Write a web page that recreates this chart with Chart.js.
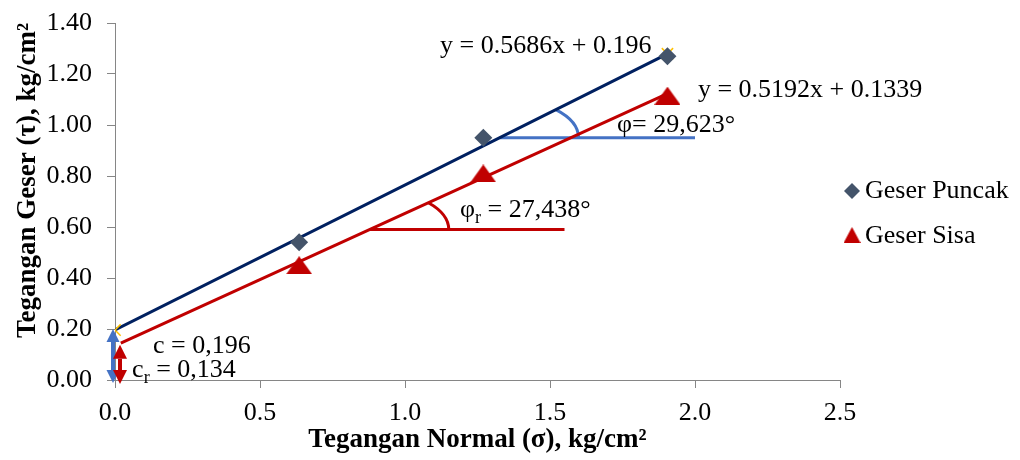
<!DOCTYPE html>
<html>
<head>
<meta charset="utf-8">
<script src="https://cdn.jsdelivr.net/npm/chart.js@4.4.1/dist/chart.umd.min.js"></script>
<style>
html,body{margin:0;background:#fff}
#wrap{width:1020px;height:460px}
</style>
</head>
<body>
<div id="wrap"><canvas id="geser"></canvas></div>
<script>
// hasil uji geser langsung
const normal=[0.635,1.27,1.905];
const geserPuncak=[0.54,0.95,1.27];
const geserSisa=[0.45,0.81,1.115];
const seriesNames=['Geser Puncak','Geser Sisa'];
// garis trend: y = a x + b
const slope=[0.5686,0.5192];
const intercept=[0.196,0.1339];
const trendFrom=[0,0.02];
const trendTo=[1.905,1.905];
const eqText=['y = 0.5686x + 0.196','y = 0.5192x + 0.1339'];
// garis bantu sudut geser
const angleLevel=[0.95,0.59];
const angleEnd=[2.0,1.55];
const angleText=['φ= 29,623°','27,438°'];
const cohesionText=['0,196','0,134'];
const yTitle='Tegangan Geser (τ), kg/cm²';

const NAVY='#002060',RED='#c00000',BLUE='#4472c4',SLATE='#44546a',GOLD='#ffc000',AX='#868686';
const SERIF="'Liberation Serif','Times New Roman',serif";

Chart.defaults.font.family=SERIF;
Chart.defaults.color='#000';

function triangle(w,h,color){
  const c=document.createElement('canvas');c.width=w;c.height=h;
  const g=c.getContext('2d');
  g.fillStyle=color;g.beginPath();g.moveTo(w/2,0);g.lineTo(w,h);g.lineTo(0,h);g.closePath();g.fill();
  return c;
}
const triMark=triangle(26,18,RED);

const pts=(xs,ys)=>xs.map((x,i)=>({x,y:ys[i]}));
const trend=i=>[trendFrom[i],trendTo[i]].map(x=>({x,y:slope[i]*x+intercept[i]}));

/* garis horizontal + busur sudut, di bawah garis trend */
const angleGuides={
  id:'angleGuides',
  beforeDatasetsDraw(c){
    const {ctx,scales:{x,y}}=c;
    const colors=[BLUE,RED];
    ctx.save();
    ctx.lineWidth=3;
    for(let i=0;i<2;i++){
      const x0=(angleLevel[i]-intercept[i])/slope[i];
      const cx=x.getPixelForValue(x0),cy=y.getPixelForValue(angleLevel[i]);
      const ex=x.getPixelForValue(angleEnd[i]);
      ctx.strokeStyle=colors[i];
      ctx.beginPath();ctx.moveTo(cx,cy);ctx.lineTo(ex,cy);ctx.stroke();
      // busur elips dari garis trend ke horizontal
      const pxSlope=slope[i]*(y.getPixelForValue(0)-y.getPixelForValue(1))/(x.getPixelForValue(1)-x.getPixelForValue(0));
      const rx=79,ry=40;
      const t=Math.atan(pxSlope*rx/ry);
      ctx.beginPath();ctx.ellipse(cx,cy,rx,ry,0,-t,0);ctx.stroke();
    }
    ctx.restore();
  }
};

function arrow(ctx,x,top,bottom,color,head){
  ctx.fillStyle=color;ctx.strokeStyle=color;ctx.lineWidth=4;
  ctx.beginPath();ctx.moveTo(x,top+head);ctx.lineTo(x,bottom-head);ctx.stroke();
  ctx.beginPath();ctx.moveTo(x,top);ctx.lineTo(x+head/2,top+head);ctx.lineTo(x-head/2,top+head);ctx.closePath();ctx.fill();
  ctx.beginPath();ctx.moveTo(x,bottom);ctx.lineTo(x+head/2,bottom-head);ctx.lineTo(x-head/2,bottom-head);ctx.closePath();ctx.fill();
}

function sub(ctx,base,s,rest,px,py,size){
  ctx.font=`${size}px ${SERIF}`;ctx.fillText(base,px,py);
  let w=ctx.measureText(base).width;
  ctx.font=`${Math.round(size*0.68)}px ${SERIF}`;ctx.fillText(s,px+w,py+6);
  w+=ctx.measureText(s).width;
  ctx.font=`${size}px ${SERIF}`;ctx.fillText(rest,px+w,py);
}

/* panah kohesi, teks persamaan, legenda, judul sumbu y */
const notes={
  id:'notes',
  afterDatasetsDraw(c){
    const {ctx,scales:{x,y},chartArea:a}=c;
    ctx.save();
    const x0=x.getPixelForValue(0),y0=y.getPixelForValue(0);
    arrow(ctx,x0-2,y.getPixelForValue(intercept[0])-1,y0+3,BLUE,13);
    arrow(ctx,x0+5,y.getPixelForValue(intercept[1])-1,y0+4,RED,14);

    ctx.fillStyle='#000';ctx.textBaseline='alphabetic';ctx.textAlign='left';
    ctx.font=`26px ${SERIF}`;
    ctx.fillText(eqText[0],x.getPixelForValue(1.121),y.getPixelForValue(1.282));
    ctx.fillText(eqText[1],x.getPixelForValue(2.01),y.getPixelForValue(1.11));
    ctx.fillText(angleText[0],x.getPixelForValue(1.731),y.getPixelForValue(0.973));
    sub(ctx,'φ','r',' = '+angleText[1],x.getPixelForValue(1.19),y.getPixelForValue(0.639),26);
    ctx.font=`26px ${SERIF}`;
    ctx.fillText('c = '+cohesionText[0],x.getPixelForValue(0.131),y.getPixelForValue(0.106));
    sub(ctx,'c','r',' = '+cohesionText[1],x.getPixelForValue(0.059),y.getPixelForValue(0.012),26);

    // legenda
    const lx=a.right+12;
    ctx.fillStyle=SLATE;
    ctx.beginPath();ctx.moveTo(lx-8,a.top+168);ctx.lineTo(lx,a.top+160);ctx.lineTo(lx+8,a.top+168);ctx.lineTo(lx,a.top+176);ctx.closePath();ctx.fill();
    ctx.drawImage(triangle(17,16,RED),lx-8.5,a.top+204);
    ctx.fillStyle='#000';ctx.font=`26px ${SERIF}`;
    ctx.fillText(seriesNames[0],lx+13,a.top+175);
    ctx.fillText(seriesNames[1],lx+13,a.top+220);

    // judul sumbu y
    ctx.translate(28,(a.top+a.bottom)/2-21);
    ctx.rotate(-Math.PI/2);
    ctx.textAlign='center';ctx.textBaseline='middle';
    ctx.font=`bold 27px ${SERIF}`;
    ctx.fillText(yTitle,0,0);
    ctx.restore();
  }
};

new Chart(document.getElementById('geser'),{
  type:'scatter',
  data:{datasets:[
    {label:'trend '+seriesNames[0],type:'line',data:trend(0),borderColor:NAVY,borderWidth:3,pointRadius:0,order:5},
    {label:'trend '+seriesNames[1],type:'line',data:trend(1),borderColor:RED,borderWidth:3,pointRadius:0,order:5},
    {label:'titik trend',data:[{x:0,y:intercept[0]},{x:trendTo[0],y:slope[0]*trendTo[0]+intercept[0]}],pointStyle:'crossRot',pointRadius:8,borderColor:GOLD,borderWidth:1.5,order:4},
    {label:seriesNames[0],data:pts(normal,geserPuncak),pointStyle:'rectRot',pointRadius:9,backgroundColor:SLATE,borderWidth:0,order:2},
    {label:seriesNames[1],data:pts(normal,geserSisa),pointStyle:triMark,order:1}
  ]},
  plugins:[angleGuides,notes],
  options:{
    responsive:true,maintainAspectRatio:false,animation:false,events:[],
    layout:{padding:{top:23,right:180,left:0,bottom:0}},
    plugins:{legend:{display:false},tooltip:{enabled:false}},
    scales:{
      x:{type:'linear',min:0,max:2.5,
        ticks:{stepSize:0.5,callback:v=>(+v).toFixed(1),font:{size:26},padding:10,color:'#000'},
        grid:{drawOnChartArea:false,tickLength:8,tickColor:AX},
        border:{color:AX},
        title:{display:true,text:'Tegangan Normal (σ), kg/cm²',font:{size:27,weight:'bold'},padding:{top:0,bottom:4},color:'#000'},
        afterFit(s){s.height=80;}
      },
      y:{min:0,max:1.4,
        ticks:{stepSize:0.2,callback:v=>(+v).toFixed(2),font:{size:26},padding:15,color:'#000'},
        grid:{drawOnChartArea:false,tickLength:8,tickColor:AX},
        border:{color:AX},
        afterFit(s){s.width=115;s.paddingTop=0;s.paddingBottom=0;}
      }
    }
  }
});
</script>
</body>
</html>
